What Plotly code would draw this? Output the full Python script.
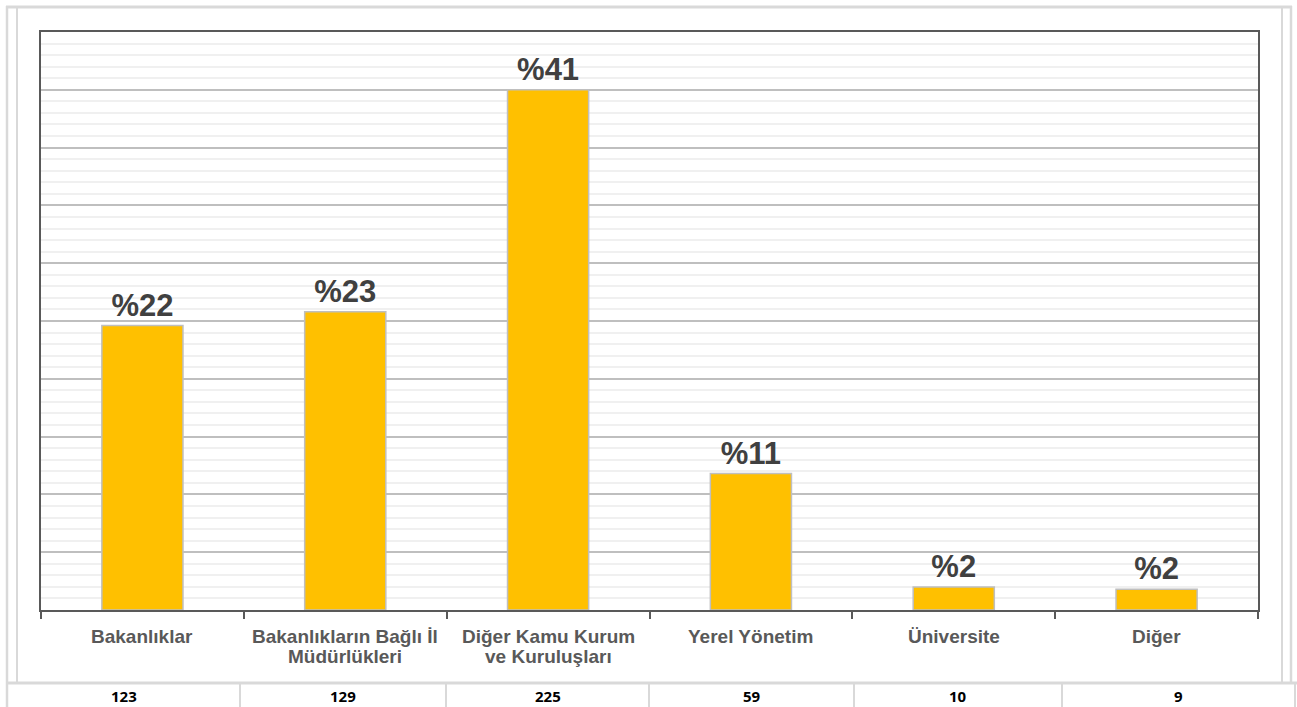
import plotly.graph_objects as go

categories = ["Bakanlıklar", "Bakanlıkların Bağlı İl<br>Müdürlükleri",
              "Diğer Kamu Kurum<br>ve Kuruluşları", "Yerel Yönetim",
              "Üniversite", "Diğer"]
counts = [123, 129, 225, 59, 10, 9]
pct_labels = ["%22", "%23", "%41", "%11", "%2", "%2"]

W, H = 1297, 707
L, R, T, B = 41, 1258, 32, 610

def px(x):
    return (x - L) / (R - L)

def py(y):
    return (B - y) / (B - T)

fig = go.Figure()
fig.add_trace(go.Bar(
    x=categories, y=counts, width=0.4,
    marker=dict(color="#FFC000", line=dict(color="#BFBFBF", width=1.5)),
    text=pct_labels, textposition="outside", constraintext="none",
    cliponaxis=False,
    textfont=dict(family="Liberation Sans, Arial", size=31, color="#404040", weight="bold"),
    hoverinfo="skip",
))

shapes = []
grey = "#D9D9D9"
# outer frame
shapes.append(dict(type="line", xref="paper", yref="paper", x0=px(7), x1=px(7), y0=py(6), y1=py(707), line=dict(color=grey, width=2.5)))
shapes.append(dict(type="line", xref="paper", yref="paper", x0=px(17), x1=px(17), y0=py(8), y1=py(683), line=dict(color=grey, width=2)))
shapes.append(dict(type="line", xref="paper", yref="paper", x0=px(6), x1=px(1292), y0=py(7), y1=py(7), line=dict(color=grey, width=3)))
shapes.append(dict(type="line", xref="paper", yref="paper", x0=px(1282), x1=px(1282), y0=py(8), y1=py(683), line=dict(color=grey, width=2)))
shapes.append(dict(type="line", xref="paper", yref="paper", x0=px(1291), x1=px(1291), y0=py(6), y1=py(683), line=dict(color=grey, width=2.5)))
# table
shapes.append(dict(type="line", xref="paper", yref="paper", x0=px(6), x1=px(1297), y0=py(683), y1=py(683), line=dict(color=grey, width=3)))
shapes.append(dict(type="line", xref="paper", yref="paper", x0=px(1295), x1=px(1295), y0=py(683), y1=py(707), line=dict(color=grey, width=2)))
cell_edges = [7, 240, 446, 649, 854, 1062, 1295]
for xe in cell_edges[1:-1]:
    shapes.append(dict(type="line", xref="paper", yref="paper", x0=px(xe), x1=px(xe), y0=py(683), y1=py(707), line=dict(color=grey, width=2)))

annotations = []
# category labels (each line placed separately for tight line spacing)
for cat in categories:
    for j, line in enumerate(cat.split("<br>")):
        annotations.append(dict(
            x=cat, xref="x", y=py(636 + 20 * j), yref="paper", text=line,
            showarrow=False, xanchor="center", yanchor="middle",
            font=dict(family="Liberation Sans, Arial", size=19, color="#595959", weight="bold"),
        ))
# table values
for i, v in enumerate(counts):
    cx = (cell_edges[i] + cell_edges[i + 1]) / 2
    annotations.append(dict(
        x=px(cx), y=py(696), xref="paper", yref="paper", text=str(v),
        showarrow=False, xanchor="center", yanchor="middle", borderpad=0,
        font=dict(family="Open Sans, Noto Sans", size=15, color="#000000", weight="bold"),
    ))

fig.update_layout(
    width=W, height=H,
    margin=dict(l=L, r=W - R, t=T, b=H - B, pad=0),
    paper_bgcolor="white", plot_bgcolor="white",
    showlegend=False, bargap=0.6,
    shapes=shapes, annotations=annotations,
    xaxis=dict(
        type="category", showgrid=False, showline=True, linecolor="#595959", linewidth=2,
        mirror=True, ticks="outside", tickson="boundaries", ticklen=7, tickcolor="#595959",
        tickwidth=1.5, showticklabels=False,
        zeroline=False,
    ),
    yaxis=dict(
        range=[0, 250], dtick=25, showticklabels=False, ticks="",
        showgrid=True, gridcolor="#BFBFBF", gridwidth=1.5,
        showline=True, linecolor="#595959", linewidth=2, mirror=True, zeroline=False,
        minor=dict(dtick=5, showgrid=True, gridcolor="#F0F0F0", gridwidth=1.5),
    ),
)

fig.write_html("out.html", config={"displayModeBar": False},
               post_script="document.body.style.margin='0';document.body.style.overflow='hidden';")
